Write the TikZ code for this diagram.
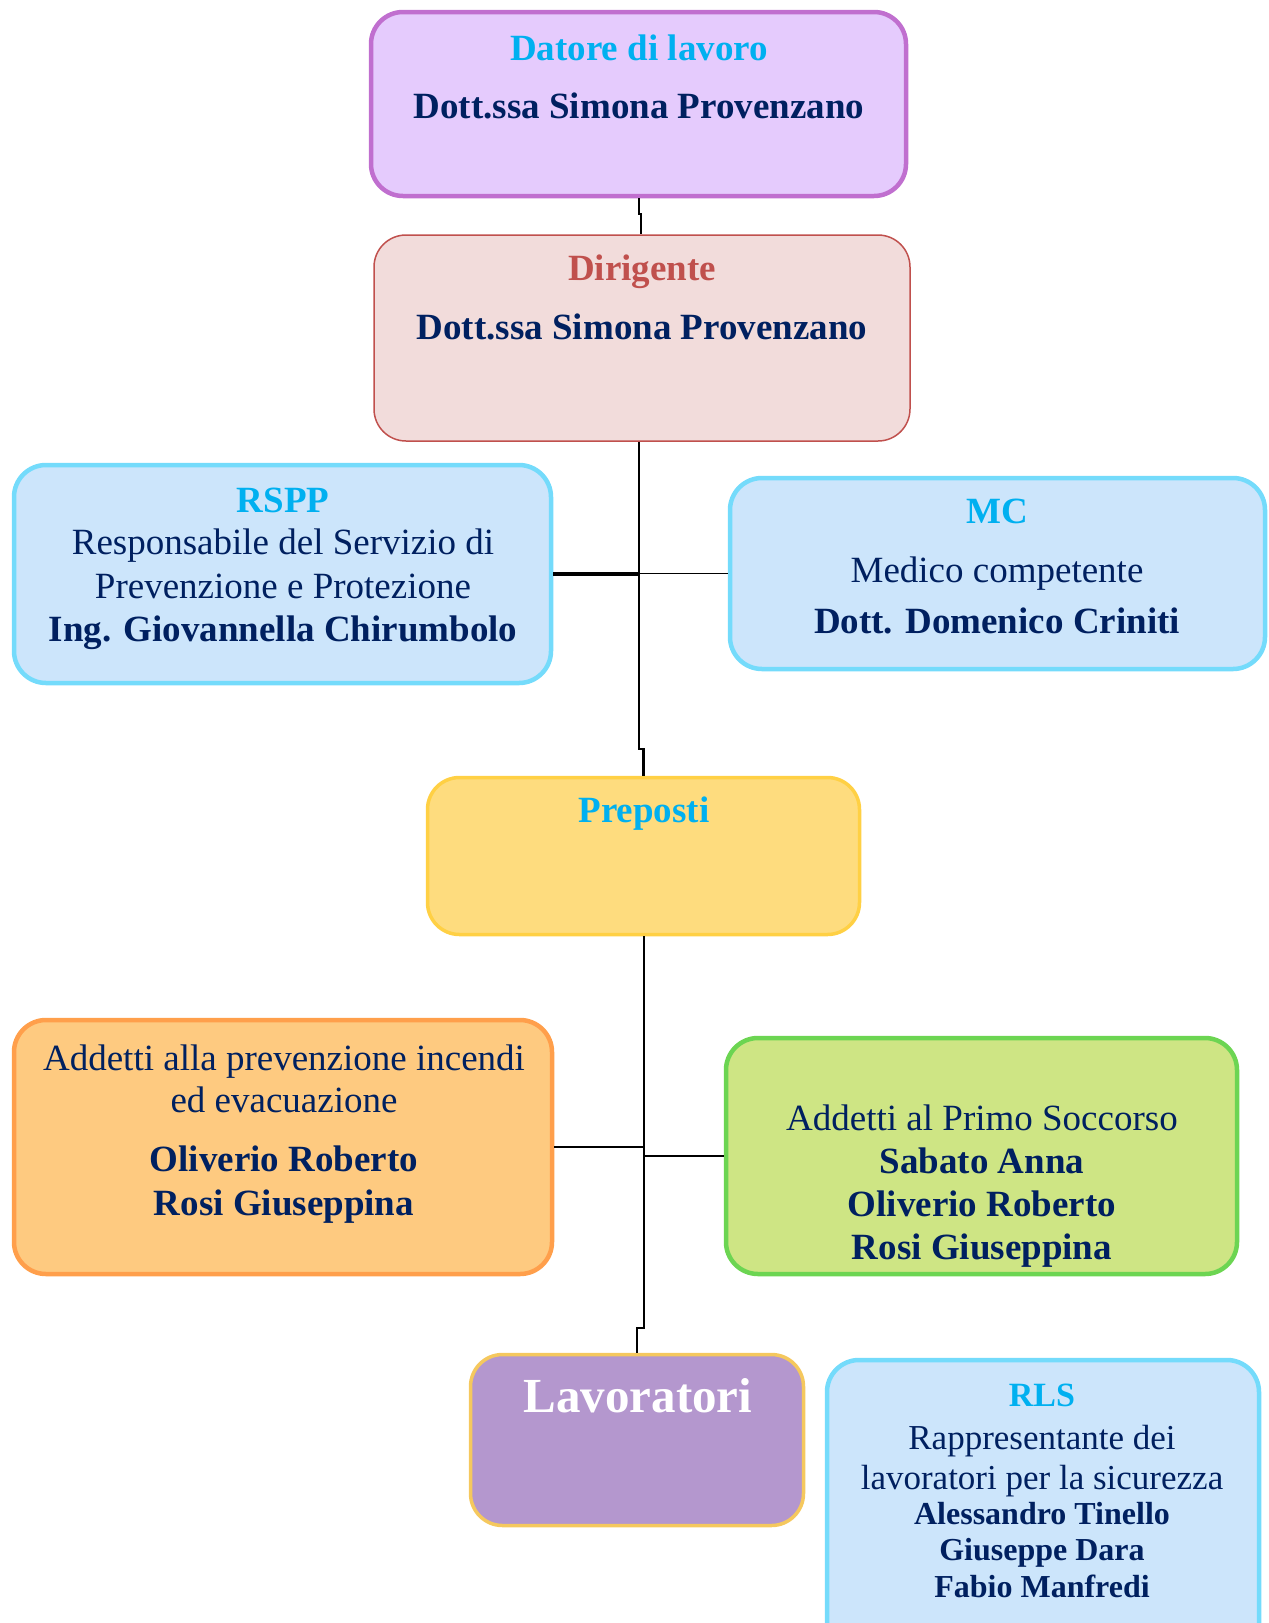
\documentclass[tikz,border=0pt]{standalone}
\usepackage{fontspec}
\setmainfont{Liberation Serif}
\definecolor{cyantxt}{HTML}{00B0F0}
\definecolor{navy}{HTML}{002060}
\definecolor{redtxt}{HTML}{C0504D}
\definecolor{datfill}{HTML}{E5CBFD}
\definecolor{datline}{HTML}{C06FCF}
\definecolor{dirfill}{HTML}{F2DCDB}
\definecolor{dirline}{HTML}{C0504D}
\definecolor{bluefill}{HTML}{CCE5FB}
\definecolor{blueline}{HTML}{74DBFB}
\definecolor{prefill}{HTML}{FEDC7E}
\definecolor{preline}{HTML}{FFD044}
\definecolor{incfill}{HTML}{FECA80}
\definecolor{incline}{HTML}{FF9F4B}
\definecolor{socfill}{HTML}{CEE584}
\definecolor{socline}{HTML}{6CD552}
\definecolor{lavfill}{HTML}{B497CE}
\definecolor{lavline}{HTML}{F5C85E}
\tikzset{
  box/.style={draw, rounded corners=32pt, line width=4.5pt, inner sep=0pt},
  txt/.style={inner sep=0pt, anchor=base, text=navy, font=\fontsize{37}{43}\selectfont},
  btxt/.style={txt, font=\fontsize{37}{43}\selectfont\bfseries},
  ttl/.style={txt, text=cyantxt, font=\fontsize{37}{43}\selectfont\bfseries},
  wire/.style={line width=2.5pt, black},
}
\begin{document}
\begin{tikzpicture}[x=1pt,y=-1pt]
\useasboundingbox (0,0) rectangle (1269,1623);
% boxes
\node[box, fill=datfill, draw=datline, minimum width=535, minimum height=184] (datore) at (638.5,104) {};
\node[box, fill=dirfill, draw=dirline, line width=1.5pt, minimum width=536, minimum height=206] (dirigente) at (642,338) {};
\node[box, fill=bluefill, draw=blueline, minimum width=537, minimum height=218] (rspp) at (282.5,574) {};
\node[box, fill=bluefill, draw=blueline, minimum width=535, minimum height=191] (mc) at (997.5,573.5) {};
\node[box, fill=prefill, draw=preline, line width=3.5pt, minimum width=432, minimum height=157] (preposti) at (643.5,856) {};
\node[box, fill=incfill, draw=incline, minimum width=538, minimum height=254] (incendi) at (283,1147) {};
\node[box, fill=socfill, draw=socline, minimum width=511, minimum height=236] (soccorso) at (981.5,1156) {};
\node[box, fill=lavfill, draw=lavline, line width=3.5pt, minimum width=333, minimum height=171] (lavoratori) at (637,1440) {};
\node[box, fill=bluefill, draw=blueline, minimum width=432, minimum height=298] (rls) at (1043,1509) {};
% connectors
\coordinate (j1) at (639,214);
\draw[wire] (datore.south -| j1) |- (641,214) -- (641,214 |- dirigente.north);
\coordinate (t1) at (639,749);
\draw[wire] (dirigente.south -| t1) -- (t1) -| (preposti.north);
\draw[line width=3.5pt] (rspp.east) -- (rspp.east -| t1);
\draw[line width=1pt] (mc.west) -- (mc.west -| t1);
\coordinate (t2) at (644,1328);
\draw[wire] (preposti.south -| t2) -- (t2) -| (lavoratori.north);
\draw[wire] (incendi.east) -- (incendi.east -| t2);
\draw[wire] (soccorso.west) -- (soccorso.west -| t2);
% texts
\node[ttl] (t-dat1) at (639,60) {Datore di lavoro};
\node[btxt] (t-dat2) at (639,118) {Dott.ssa Simona Provenzano};
\node[ttl, text=redtxt] (t-dir1) at (642,280) {Dirigente};
\node[btxt] (t-dir2) at (642,339) {Dott.ssa Simona Provenzano};
\node[ttl] (t-rs1) at (283,512) {RSPP};
\node[txt] (t-rs2) at (283,554) {Responsabile del Servizio di};
\node[txt] (t-rs3) at (283,598) {Prevenzione e Protezione};
\node[btxt] (t-rs4) at (283,641) {Ing. Giovannella Chirumbolo};
\node[ttl] (t-mc1) at (997,523) {MC};
\node[txt] (t-mc2) at (997,582) {Medico competente};
\node[btxt] (t-mc3) at (997,633) {Dott. Domenico Criniti};
\node[ttl] (t-pre) at (644,822) {Preposti};
\node[txt] (t-in1) at (284,1070) {Addetti alla prevenzione incendi};
\node[txt] (t-in2) at (284,1112) {ed evacuazione};
\node[btxt] (t-in3) at (284,1171) {Oliverio Roberto};
\node[btxt] (t-in4) at (284,1215) {Rosi Giuseppina};
\node[txt] (t-so1) at (982,1130) {Addetti al Primo Soccorso};
\node[btxt] (t-so2) at (982,1173) {Sabato Anna};
\node[btxt] (t-so3) at (982,1216) {Oliverio Roberto};
\node[btxt] (t-so4) at (982,1259) {Rosi Giuseppina};
\node[btxt, text=white, font=\fontsize{49}{55}\selectfont\bfseries] (t-lav) at (638,1412) {Lavoratori};
\node[ttl, font=\fontsize{34}{40}\selectfont\bfseries] (t-rl1) at (1042,1406) {RLS};
\node[txt, font=\fontsize{35}{41}\selectfont] (t-rl2) at (1042,1449) {Rappresentante dei};
\node[txt, font=\fontsize{35}{41}\selectfont] (t-rl3) at (1042,1489) {lavoratori per la sicurezza};
\node[btxt, font=\fontsize{32}{38}\selectfont\bfseries] (t-rl4) at (1042,1524) {Alessandro Tinello};
\node[btxt, font=\fontsize{32}{38}\selectfont\bfseries] (t-rl5) at (1042,1560) {Giuseppe Dara};
\node[btxt, font=\fontsize{32}{38}\selectfont\bfseries] (t-rl6) at (1042,1597) {Fabio Manfredi};
\end{tikzpicture}
\end{document}
